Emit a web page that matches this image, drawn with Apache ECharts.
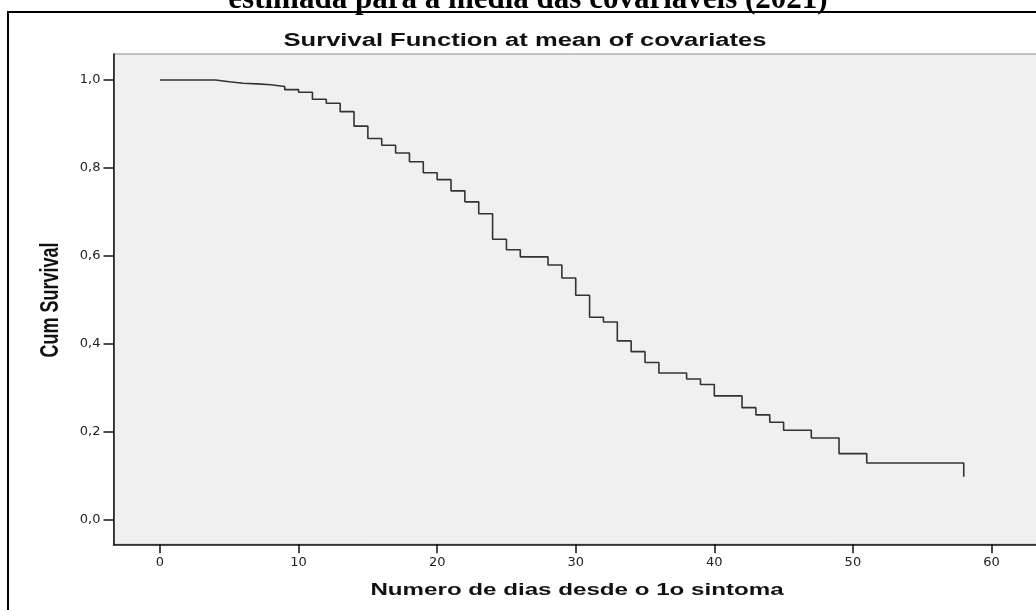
<!DOCTYPE html>
<html>
<head>
<meta charset="utf-8">
<script src="https://cdn.jsdelivr.net/npm/echarts@6/dist/echarts.min.js"></script>
<style>
  html, body { margin: 0; padding: 0; background: #fff; overflow: hidden; }
  #chart { width: 1036px; height: 610px; }
</style>
</head>
<body>
<div id="chart"></div>
<script>
// days since first symptom and estimated cumulative survival (level after each step)
const days = [0, 4, 5, 6, 7, 8, 9, 10, 11, 12, 13, 14, 15, 16, 17, 18, 19, 20, 21, 22, 23, 24, 25, 26,
  28, 29, 30, 31, 32, 33, 34, 35, 36, 38, 39, 40, 42, 43, 44, 45, 47, 49, 51, 58];
const survival = [1.0, 0.996, 0.9925, 0.991, 0.989, 0.985, 0.978, 0.972, 0.956, 0.947, 0.928, 0.895,
  0.867, 0.8515, 0.834, 0.814, 0.789, 0.7735, 0.748, 0.723, 0.696, 0.638, 0.614, 0.598,
  0.5795, 0.55, 0.5106, 0.4606, 0.45, 0.407, 0.3826, 0.358, 0.334, 0.3205, 0.308, 0.282,
  0.2553, 0.239, 0.222, 0.204, 0.1864, 0.1508, 0.1295, 0.0985];
const xTicks = [0, 10, 20, 30, 40, 50, 60];
const yTicks = [0, 0.2, 0.4, 0.6, 0.8, 1.0];

const chart = echarts.init(document.getElementById('chart'));

const points = days.map((d, i) => [d, survival[i]]);

const option = {
  backgroundColor: '#fff',
  animation: false,
  grid: {
    left: 113.5,
    top: 54,
    width: 962.5,
    height: 490.3,
    outerBoundsMode: 'none',
    containLabel: false,
    show: true,
    backgroundColor: '#f0f0f0',
    borderColor: '#8a8a8a',
    borderWidth: 1
  },
  xAxis: {
    type: 'value',
    min: -3.356,
    max: 66.1,
    axisLine: { show: true, onZero: false, lineStyle: { color: '#111', width: 1.5 } },
    axisTick: { show: true, customValues: xTicks, length: 9, lineStyle: { color: '#111', width: 1.5 } },
    axisLabel: {
      customValues: xTicks,
      margin: 12,
      color: '#222',
      fontFamily: 'DejaVu Sans',
      fontSize: 13
    },
    splitLine: { show: false }
  },
  yAxis: {
    type: 'value',
    min: -0.0552,
    max: 1.059,
    axisLine: { show: true, onZero: false, lineStyle: { color: '#111', width: 1.5 } },
    axisTick: { show: true, customValues: yTicks, length: 10, lineStyle: { color: '#111', width: 1.5 } },
    axisLabel: {
      customValues: yTicks,
      margin: 13,
      color: '#222',
      fontFamily: 'DejaVu Sans',
      fontSize: 13,
      formatter: v => v.toFixed(1).replace('.', ',')
    },
    splitLine: { show: false }
  },
  series: [
    {
      name: 'Survival',
      type: 'line',
      step: 'end',
      data: points,
      showSymbol: false,
      lineStyle: { color: '#333', width: 1.6 }
    }
  ],
  graphic: [
    {
      // outer frame of the figure
      type: 'rect',
      shape: { x: 8, y: 12, width: 1100, height: 700 },
      style: { fill: 'none', stroke: '#000', lineWidth: 2 },
      silent: true
    },
    {
      type: 'text',
      x: 528,
      y: 15,
      style: {
        text: 'estimada para a media das covariaveis (2021)',
        font: 'bold 31px "Liberation Serif", serif',
        fill: '#000',
        align: 'center',
        verticalAlign: 'bottom'
      }
    },
    {
      type: 'text',
      x: 525,
      y: 41,
      scaleX: 1.42,
      style: {
        text: 'Survival Function at mean of covariates',
        font: 'bold 18px "Liberation Sans", Arial, sans-serif',
        fill: '#111',
        align: 'center',
        verticalAlign: 'middle'
      }
    },
    {
      type: 'text',
      x: 577,
      y: 590,
      scaleX: 1.42,
      style: {
        text: 'Numero de dias desde o 1o sintoma',
        font: 'bold 17px "Liberation Sans", Arial, sans-serif',
        fill: '#111',
        align: 'center',
        verticalAlign: 'middle'
      }
    },
    {
      type: 'text',
      x: 51,
      y: 300,
      rotation: Math.PI / 2,
      scaleY: 1.42,
      style: {
        text: 'Cum Survival',
        font: 'bold 18px "Liberation Sans", Arial, sans-serif',
        fill: '#111',
        align: 'center',
        verticalAlign: 'middle'
      }
    }
  ]
};

chart.setOption(option);
</script>
</body>
</html>
